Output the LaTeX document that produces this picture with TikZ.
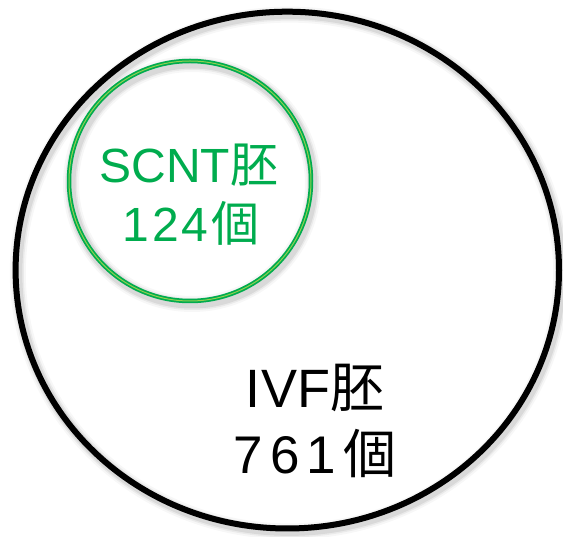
\documentclass[tikz,border=0pt]{standalone}
\usepackage{fontspec}
\setmainfont{Liberation Sans}
\newfontfamily\cjk{Noto Sans CJK JP}
\definecolor{sgreen}{RGB}{0,172,78}
\definecolor{sgreenlt}{RGB}{146,208,80}
\newcommand{\gp}[1]{\hspace{#1pt}}
\tikzset{
  softshadow/.style={black, opacity=#1},
  bigring/.style={line width=6pt, black},
  greenring/.style={line width=4.5pt, sgreen},
  greenin/.style={line width=1pt, sgreenlt},
  greentxt/.style={anchor=base, text=sgreen, inner sep=0pt},
  blacktxt/.style={anchor=base, text=black, inner sep=0pt}
}
\begin{document}
\begin{tikzpicture}[x=1pt,y=-1pt]
\useasboundingbox[fill=white] (0,0) rectangle (563,537);
% shadows
\foreach \w/\o in {16/0.03,12/0.05,9/0.07} {
  \draw[softshadow=\o, line width=\w pt] (289.5,273) ellipse [x radius=271.7pt, y radius=258.4pt];
  \draw[softshadow=\o, line width=\w pt] (192,184) ellipse [x radius=121pt, y radius=120pt];
}
% big circle
\draw[bigring] (287.3,270.1) ellipse [x radius=271.7pt, y radius=258.4pt];
% green circle
\draw[greenring] (190,181) ellipse [x radius=121pt, y radius=120pt];
\draw[greenin] (190,181) ellipse [x radius=121pt, y radius=120pt];
% texts
\node[greentxt, font=\fontsize{48}{48}\selectfont] (scnt) at (189,183) {SCNT{\cjk 胚}};
\node[greentxt, font=\fontsize{48}{48}\selectfont] (n124) at (191,242) {1\gp{3}2\gp{3}4\gp{3}{\cjk 個}};
\node[blacktxt, font=\fontsize{54}{54}\selectfont] (ivf) at (315,408) {IVF{\cjk 胚}};
\node[blacktxt, font=\fontsize{53}{53}\selectfont] (n761) at (315,474) {7\gp{7}6\gp{7}1\gp{7}{\cjk 個}};
\end{tikzpicture}
\end{document}
